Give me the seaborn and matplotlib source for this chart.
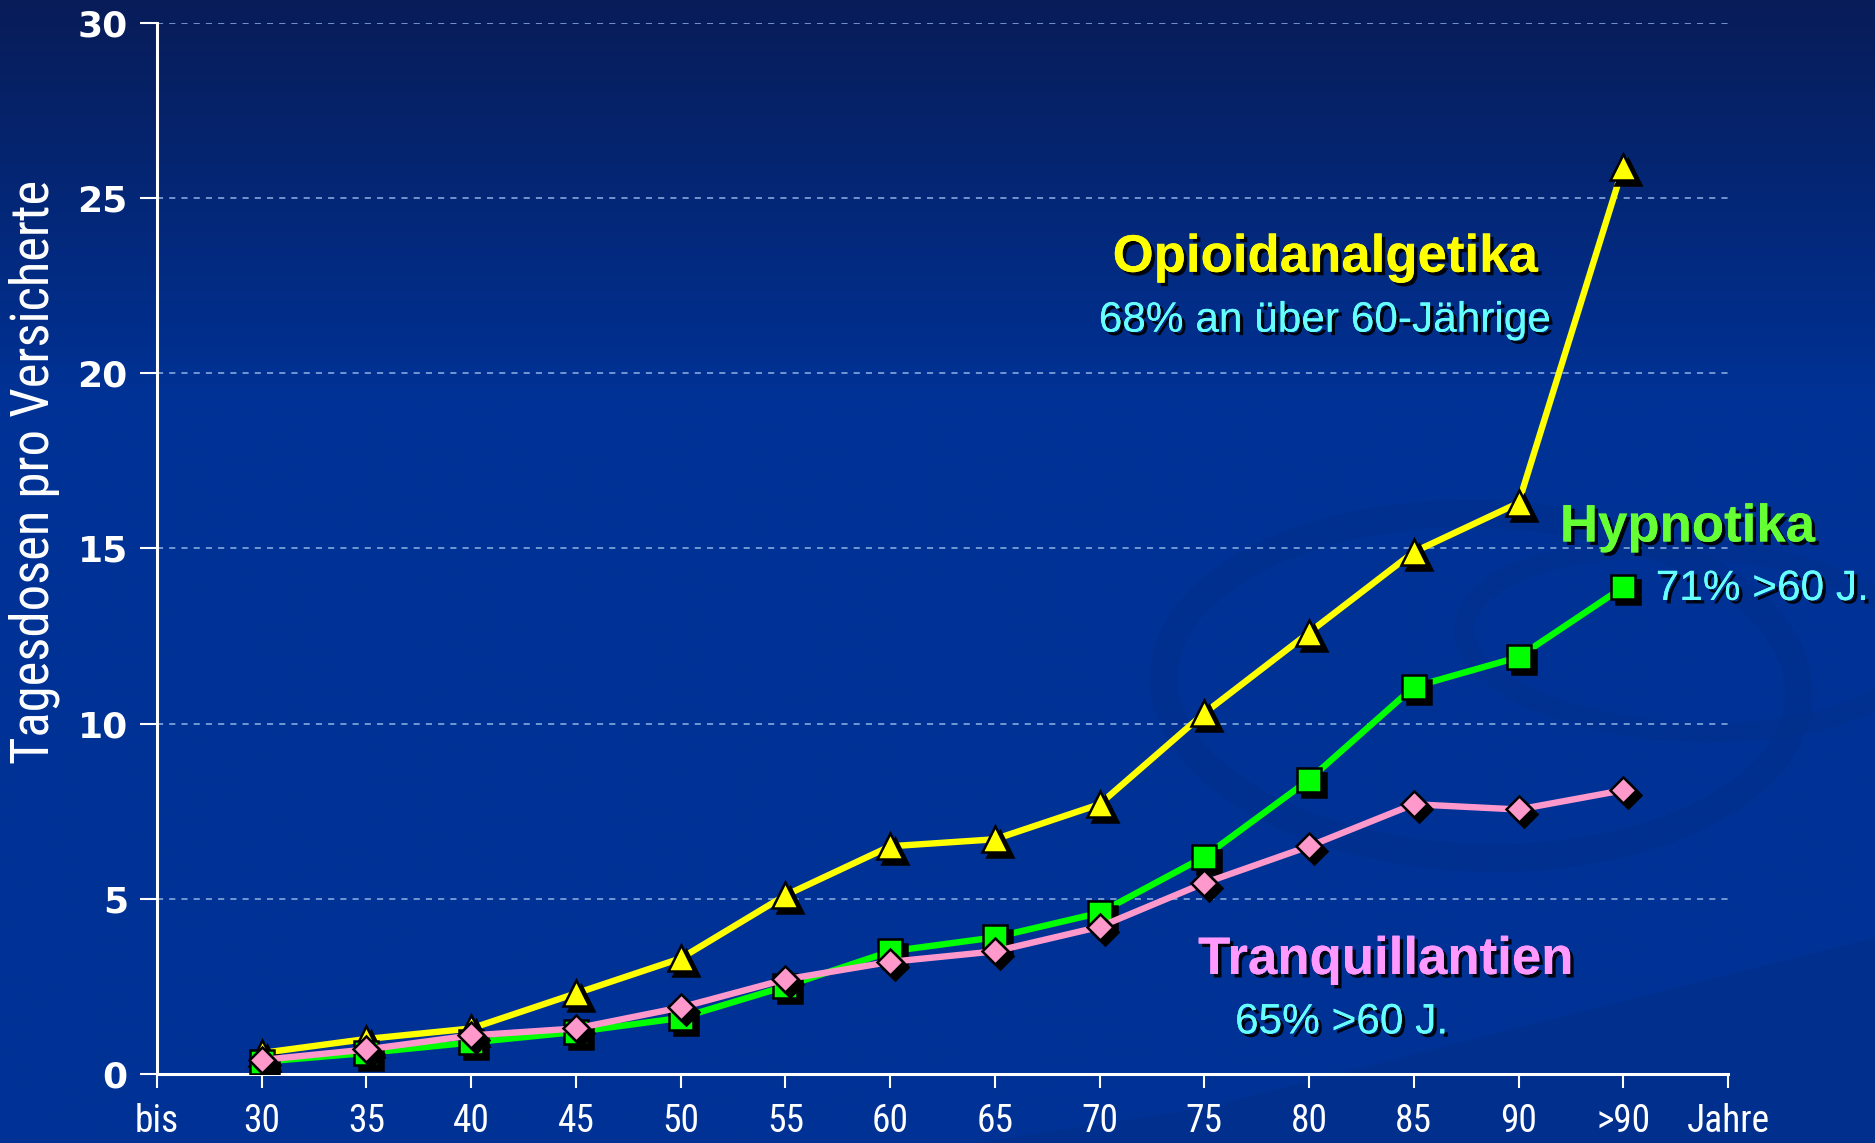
import numpy as np
import pandas as pd
import matplotlib
matplotlib.use("Agg")
import matplotlib.pyplot as plt
import matplotlib.patheffects as pe
from matplotlib import font_manager as fm
from matplotlib.transforms import offset_copy
from matplotlib.patches import Ellipse, Polygon
import seaborn as sns

# ---------------- data ----------------
age_labels = ["bis", "30", "35", "40", "45", "50", "55", "60", "65", "70",
              "75", "80", "85", "90", ">90", "Jahre"]
age_groups = ["30", "35", "40", "45", "50", "55", "60", "65", "70",
              "75", "80", "85", "90", ">90"]
opioid = [0.6, 1.0, 1.3, 2.3, 3.3, 5.1, 6.5, 6.7, 7.7, 10.3, 12.6, 14.9, 16.3, 25.9]
hypnotika = [0.35, 0.6, 0.9, 1.2, 1.6, 2.5, 3.5, 3.9, 4.6, 6.2, 8.4, 11.05, 11.9, 13.9]
tranq = [0.4, 0.7, 1.1, 1.3, 1.9, 2.7, 3.2, 3.5, 4.2, 5.45, 6.5, 7.7, 7.55, 8.1]
y_ticks = [0, 5, 10, 15, 20, 25, 30]

sns.set_style("ticks")


def find_condensed():
    cands = ["Liberation Sans Narrow", "Roboto Condensed",
             "DejaVu Sans Condensed", "Open Sans Condensed"]
    for fam in cands:
        try:
            fm.findfont(fm.FontProperties(family=fam), fallback_to_default=False)
            return fam, "normal"
        except Exception:
            pass
    for fam in ["DejaVu Sans", "Roboto", "Open Sans", "Noto Sans"]:
        for f in fm.fontManager.ttflist:
            if f.name == fam and "ondensed" in f.fname:
                return fam, "condensed"
    return "Liberation Sans", "normal"


NARROW, STRETCH = find_condensed()
plt.rcParams["font.family"] = ["Liberation Sans", "DejaVu Sans"]

fig = plt.figure(figsize=(18.75, 11.43), dpi=100)

# background gradient
bg = fig.add_axes([0, 0, 1, 1], zorder=-10)
h = 400
t = np.linspace(0, 1, h)[:, None]
top = np.array([8, 28, 88]) / 255.0
mid = np.array([0, 50, 150]) / 255.0
w = np.clip(t / 0.35, 0, 1)
col = top * (1 - w) + mid * w
grad = np.repeat(col[:, None, :], 10, axis=1).reshape(h, 10, 3)
bg.imshow(grad, aspect="auto", extent=[0, 1, 0, 1], origin="upper")
# subtle swirl decorations
swirl = "#022e88"
bg.add_patch(Ellipse((0.79, 0.40), 0.34, 0.30, angle=-10, fill=False,
                     ec=swirl, lw=20, alpha=0.45))
bg.add_patch(Ellipse((0.90, 0.44), 0.24, 0.16, angle=-8, fill=False,
                     ec=swirl, lw=14, alpha=0.4))
bg.add_patch(Polygon([[0.52, 0.0], [1.0, 0.0], [1.0, 0.18], [0.64, 0.03]],
                     closed=True, fc=swirl, ec="none", alpha=0.5))
bg.set_xlim(0, 1)
bg.set_ylim(0, 1)
bg.axis("off")

ax = fig.add_axes([0.08373, 0.06037, 0.83787, 0.91951], zorder=1)
ax.set_facecolor("none")

pos = np.arange(1, len(age_groups) + 1)
df = pd.DataFrame({"pos": pos, "Opioidanalgetika": opioid,
                   "Hypnotika": hypnotika, "Tranquillantien": tranq})

series = [
    ("Opioidanalgetika", "#FFFF00", "#FFFF00", "^", 19),
    ("Hypnotika", "#00FF00", "#00FF00", "s", 17),
    ("Tranquillantien", "#FF99CC", "#FF99CC", "D", 13.5),
]
shadow_tr = offset_copy(ax.transData, fig=fig, x=5, y=-5, units="dots")
for i, (name, lc, fc, mk, ms) in enumerate(series):
    z = 3 + i * 3
    sns.lineplot(data=df, x="pos", y=name, color=lc, linewidth=4.6, ax=ax,
                 zorder=z, solid_joinstyle="round")
    ax.plot(df["pos"], df[name], linestyle="none", marker=mk, markersize=ms,
            color="black", markeredgecolor="black", markeredgewidth=1.8,
            transform=shadow_tr, zorder=z + 1)
    sns.lineplot(data=df, x="pos", y=name, linestyle="none", marker=mk,
                 markersize=ms, markerfacecolor=fc, markeredgecolor="black",
                 markeredgewidth=1.8, ax=ax, zorder=z + 2)

ax.set_xlim(0, 15)
ax.set_ylim(0, 30)
ax.set_xticks(range(len(age_labels)))
ax.set_xticklabels(age_labels, fontfamily=NARROW, fontstretch=STRETCH,
                   fontsize=27, color="white")
ax.set_yticks(y_ticks)
ax.set_yticklabels([str(v) for v in y_ticks], fontfamily="DejaVu Sans",
                   fontweight="bold", fontsize=26, color="white")
ax.tick_params(axis="x", direction="out", length=10, width=1.5, color="white", pad=11)
ax.tick_params(axis="y", direction="out", length=12, width=1.5, color="white", pad=9)

for s in ["top", "right"]:
    ax.spines[s].set_visible(False)
for s in ["left", "bottom"]:
    ax.spines[s].set_color("white")
    ax.spines[s].set_linewidth(2.2)

ax.grid(axis="y", color="#8fb2e6", linestyle=(0, (4, 4)), linewidth=1.1)
ax.grid(axis="x", visible=False)
ax.set_axisbelow(True)

ax.set_xlabel("")
ylab_size = 38 if NARROW != "Liberation Sans" else 30
ax.set_ylabel("Tagesdosen pro Versicherte", fontfamily=NARROW, fontstretch=STRETCH,
              fontsize=ylab_size, color="white")
ax.yaxis.set_label_coords(-0.062, 0.573)

shadow = [pe.withSimplePatchShadow(offset=(2.5, -2.5), shadow_rgbFace="black", alpha=0.9),
          pe.Normal()]


def label(x, y, s, color, size, weight="normal", ha="center"):
    ax.text(x, y, s, color=color, fontsize=size, fontweight=weight, ha=ha,
            va="baseline", path_effects=shadow, clip_on=False, zorder=20,
            fontfamily="Liberation Sans")


label(11.15, 22.90, "Opioidanalgetika", "#FFFF00", 38, "bold")
label(11.15, 21.19, "68% an über 60-Jährige", "#66FFFF", 30.5)
label(14.61, 15.20, "Hypnotika", "#66FF33", 38, "bold")
label(14.31, 13.53, "71% >60 J.", "#66FFFF", 30.5, ha="left")
label(11.73, 2.855, "Tranquillantien", "#FF99FF", 38, "bold")
label(11.31, 1.16, "65% >60 J.", "#66FFFF", 30.5)

fig.savefig("out.png", dpi=100)
